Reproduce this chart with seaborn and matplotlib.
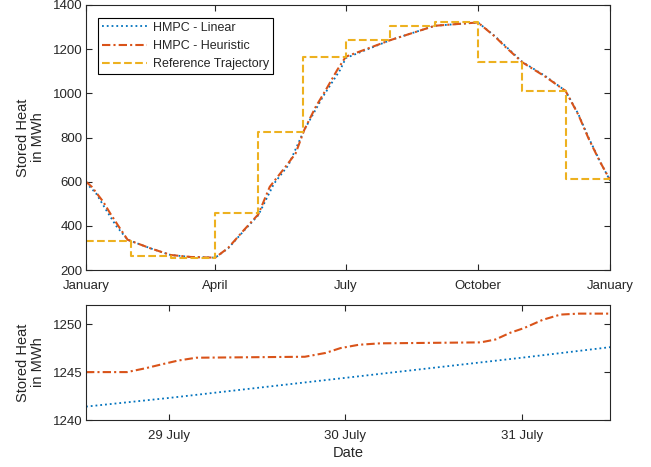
import matplotlib
matplotlib.use("Agg")
import matplotlib.pyplot as plt
import matplotlib.dates as mdates
import pandas as pd
import seaborn as sns

# yearly view
ref_dates = ["2019-01-01", "2019-02-01", "2019-03-01", "2019-04-01", "2019-05-01",
             "2019-06-01", "2019-07-01", "2019-08-01", "2019-09-01", "2019-10-01",
             "2019-11-01", "2019-12-01", "2020-01-01"]
ref_values = [333, 265, 256, 456, 825, 1166, 1241, 1305, 1321, 1142, 1009, 612, 612]

heur_dates = ["2019-01-01", "2019-01-05", "2019-01-13", "2019-01-18", "2019-01-24",
              "2019-01-30", "2019-02-15", "2019-03-01", "2019-03-15", "2019-04-01",
              "2019-04-10", "2019-04-21", "2019-05-01", "2019-05-09", "2019-05-20",
              "2019-05-27", "2019-06-02", "2019-06-10", "2019-06-17", "2019-06-25",
              "2019-07-01", "2019-08-01", "2019-09-01", "2019-10-01", "2019-10-13",
              "2019-10-20", "2019-11-01", "2019-11-17", "2019-12-01", "2019-12-10",
              "2019-12-17", "2019-12-25", "2020-01-01"]
heur_values = [600, 577, 509, 455, 395, 337, 298, 268, 259, 256,
               300, 381, 452, 577, 668, 728, 834, 939, 1015, 1106,
               1166, 1241, 1306, 1321, 1256, 1211, 1140, 1075, 1011, 902,
               796, 690, 608]

lin_dates = ["2019-01-01", "2019-01-08", "2019-01-15", "2019-01-22", "2019-01-30",
             "2019-02-15", "2019-03-01", "2019-03-15", "2019-04-01", "2019-04-10",
             "2019-04-21", "2019-05-01", "2019-05-12", "2019-05-22", "2019-06-02",
             "2019-06-15", "2019-06-27", "2019-07-01", "2019-08-01", "2019-09-01",
             "2019-10-01", "2019-10-13", "2019-10-20", "2019-11-01", "2019-11-17",
             "2019-12-01", "2019-12-10", "2019-12-17", "2019-12-25", "2020-01-01"]
lin_values = [595, 547, 472, 400, 337, 298, 268, 259, 256, 298,
              378, 448, 592, 675, 834, 985, 1106, 1160, 1241, 1306,
              1321, 1258, 1215, 1142, 1078, 1011, 905, 800, 692, 605]

# zoom on end of july
zoom_heur_t = ["2019-07-28 12:45", "2019-07-28 18:20", "2019-07-28 20:50", "2019-07-28 23:00",
               "2019-07-29 01:15", "2019-07-29 03:45", "2019-07-29 18:30", "2019-07-29 21:20",
               "2019-07-29 23:20", "2019-07-30 01:50", "2019-07-30 04:45", "2019-07-30 18:25",
               "2019-07-30 20:25", "2019-07-30 22:25", "2019-07-31 00:20", "2019-07-31 02:50",
               "2019-07-31 05:15", "2019-07-31 07:45", "2019-07-31 12:00"]
zoom_heur_v = [1245.0, 1245.0, 1245.4, 1245.8, 1246.2, 1246.5, 1246.6, 1247.0,
               1247.5, 1247.85, 1248.0, 1248.1, 1248.4, 1249.1, 1249.6, 1250.45,
               1251.0, 1251.1, 1251.1]
zoom_lin_t = ["2019-07-28 12:45", "2019-07-29 00:00", "2019-07-30 00:00",
              "2019-07-31 00:00", "2019-07-31 12:00"]
zoom_lin_v = [1241.4, 1242.3, 1244.4, 1246.5, 1247.6]

c_lin = "#0072BD"
c_heur = "#D95319"
c_ref = "#EDB120"
dark = "#262626"
dashdot = (0, (4, 1.5, 1, 1.5))

sns.set_theme(style="white")
plt.rcParams["font.family"] = ["Liberation Sans", "DejaVu Sans"]
plt.rcParams["axes.edgecolor"] = dark
plt.rcParams["xtick.color"] = dark
plt.rcParams["ytick.color"] = dark
plt.rcParams["text.color"] = dark
plt.rcParams["axes.labelcolor"] = dark

fig = plt.figure(figsize=(6.51, 4.67), dpi=100)
ax1 = fig.add_axes([0.1321, 0.4218, 0.805, 0.5675])
ax2 = fig.add_axes([0.1321, 0.1006, 0.805, 0.2463])

sns.lineplot(x=pd.to_datetime(lin_dates), y=lin_values, ax=ax1, color=c_lin,
             linestyle=":", linewidth=1.3, label="HMPC - Linear")
sns.lineplot(x=pd.to_datetime(heur_dates), y=heur_values, ax=ax1, color=c_heur,
             linestyle=dashdot, linewidth=1.5, label="HMPC - Heuristic")
sns.lineplot(x=pd.to_datetime(ref_dates), y=ref_values, ax=ax1, color=c_ref,
             linestyle="--", linewidth=1.5, drawstyle="steps-post",
             label="Reference Trajectory")

sns.lineplot(x=pd.to_datetime(zoom_lin_t), y=zoom_lin_v, ax=ax2, color=c_lin,
             linestyle=":", linewidth=1.3)
sns.lineplot(x=pd.to_datetime(zoom_heur_t), y=zoom_heur_v, ax=ax2, color=c_heur,
             linestyle=dashdot, linewidth=1.5)

ax1.set_xlim(pd.Timestamp("2019-01-01"), pd.Timestamp("2020-01-01"))
ax1.set_ylim(200, 1400)
ax1.set_yticks(range(200, 1401, 200))
ax1.set_xticks(pd.to_datetime(["2019-01-01", "2019-04-01", "2019-07-01",
                               "2019-10-01", "2020-01-01"]))
ax1.xaxis.set_major_formatter(mdates.DateFormatter("%B"))

ax2.set_xlim(pd.Timestamp("2019-07-28 12:45"), pd.Timestamp("2019-07-31 12:00"))
ax2.set_ylim(1240, 1252)
ax2.set_yticks([1240, 1245, 1250])
ax2.set_xticks(pd.to_datetime(["2019-07-29", "2019-07-30", "2019-07-31"]))
ax2.xaxis.set_major_formatter(mdates.DateFormatter("%-d %B"))

for ax in (ax1, ax2):
    ax.tick_params(direction="in", length=4, width=0.8, labelsize=9.5,
                   top=True, right=True, bottom=True, left=True)
    ax.tick_params(axis="x", pad=7)
    ax.tick_params(axis="y", pad=2.5)
    for s in ax.spines.values():
        s.set_linewidth(0.8)
        s.set_color(dark)
    ax.set_ylabel("Stored Heat\nin MWh", fontsize=10.5, linespacing=1.1)
    ax.yaxis.set_label_coords(-0.078, 0.5)

ax1.set_xlabel("")
ax2.set_xlabel("Date", fontsize=10.5, labelpad=3)

leg = ax1.legend(loc="upper left", bbox_to_anchor=(0.0229, 0.951), borderaxespad=0,
                 fontsize=9, handlelength=3.6, frameon=True, fancybox=False,
                 framealpha=1, edgecolor="black", borderpad=0.3, labelspacing=0.5,
                 handletextpad=0.5)
leg.get_frame().set_linewidth(0.8)

fig.savefig("out.png", dpi=100)
